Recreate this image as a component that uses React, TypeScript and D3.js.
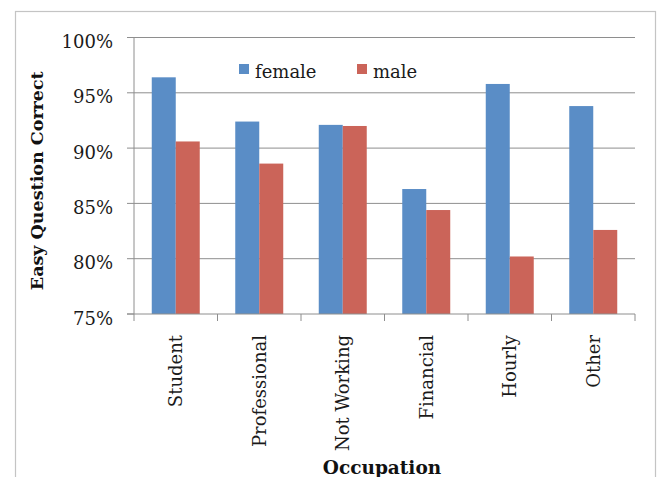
import React from 'react';
import * as d3 from 'd3';

// chart data
const occupations = ['Student', 'Professional', 'Not Working', 'Financial', 'Hourly', 'Other'];
const femaleValues = [0.964, 0.924, 0.921, 0.863, 0.958, 0.938];
const maleValues = [0.906, 0.886, 0.92, 0.844, 0.802, 0.826];
const yTicks = [0.75, 0.8, 0.85, 0.9, 0.95, 1.0];
const seriesNames = ['female', 'male'];

const WIDTH = 657;
const HEIGHT = 477;
const COLORS = ['#5A8DC6', '#CB6459'];
const FONT = '"DejaVu Serif", serif';

const App: React.FC = () => {
  const plot = { left: 134, right: 635, top: 37.5, bottom: 314 };

  const x = d3.scaleBand<string>().domain(occupations).range([plot.left, plot.right]);
  const y = d3.scaleLinear().domain([0.75, 1.0]).range([plot.bottom, plot.top]);

  // bar geometry: two bars per category, gap ~150% of a bar
  const barW = x.bandwidth() / 3.48;
  const sub = d3
    .scaleBand<string>()
    .domain(seriesNames)
    .range([x.bandwidth() / 2 - barW, x.bandwidth() / 2 + barW]);

  const series = [femaleValues, maleValues];
  const fmt = d3.format('.0%');

  return (
    <svg
      width={WIDTH}
      height={HEIGHT}
      style={{ position: 'fixed', left: 0, top: 0, background: '#fff' }}
      fontFamily={FONT}
    >
      {/* chart border */}
      <rect x={15.5} y={11.5} width={640} height={480} fill="none" stroke="#C4C4C4" strokeWidth={1.2} />

      {/* gridlines */}
      {yTicks.slice(1).map(t => (
        <line key={t} x1={plot.left} x2={plot.right} y1={y(t)} y2={y(t)} stroke="#8E8E8E" strokeWidth={1} />
      ))}

      {/* bars */}
      {series.map((vals, si) =>
        occupations.map((occ, i) => (
          <rect
            key={`${si}-${occ}`}
            x={(x(occ) || 0) + (sub(seriesNames[si]) || 0)}
            y={y(vals[i])}
            width={sub.bandwidth()}
            height={y(0.75) - y(vals[i])}
            fill={COLORS[si]}
          />
        ))
      )}

      {/* axes */}
      <line x1={plot.left} x2={plot.left} y1={plot.top} y2={plot.bottom + 7} stroke="#8E8E8E" />
      <line x1={plot.left - 7} x2={plot.right} y1={plot.bottom} y2={plot.bottom} stroke="#8E8E8E" />
      {yTicks.map(t => (
        <g key={t}>
          <line x1={plot.left - 7} x2={plot.left} y1={y(t)} y2={y(t)} stroke="#8E8E8E" />
          <text x={plot.left - 21} y={y(t) + 10.5} textAnchor="end" fontSize={18} fill="#1a1a1a">
            {fmt(t)}
          </text>
        </g>
      ))}
      {occupations.map(occ => (
        <g key={occ}>
          <line
            x1={x(occ)! + x.bandwidth()}
            x2={x(occ)! + x.bandwidth()}
            y1={plot.bottom}
            y2={plot.bottom + 7}
            stroke="#8E8E8E"
          />
          <text
            transform={`translate(${x(occ)! + x.bandwidth() / 2 + 6.5},${plot.bottom + 21}) rotate(-90)`}
            textAnchor="end"
            fontSize={18}
            fill="#1a1a1a"
          >
            {occ}
          </text>
        </g>
      ))}

      {/* axis titles */}
      <text
        transform={`translate(43,${(plot.top + plot.bottom) / 2 + 5}) rotate(-90)`}
        textAnchor="middle"
        fontSize={17.5}
        fontWeight="bold"
        fill="#111"
      >
        Easy Question Correct
      </text>
      <text x={382} y={474} textAnchor="middle" fontSize={18.5} fontWeight="bold" fill="#111">
        Occupation
      </text>

      {/* legend */}
      {seriesNames.map((name, i) => (
        <g key={name} transform={`translate(${i === 0 ? 239 : 357},64)`}>
          <rect width={10} height={10} fill={COLORS[i]} />
          <text x={16} y={13.5} fontSize={18} fill="#1a1a1a">
            {name}
          </text>
        </g>
      ))}
    </svg>
  );
};

export default App;
